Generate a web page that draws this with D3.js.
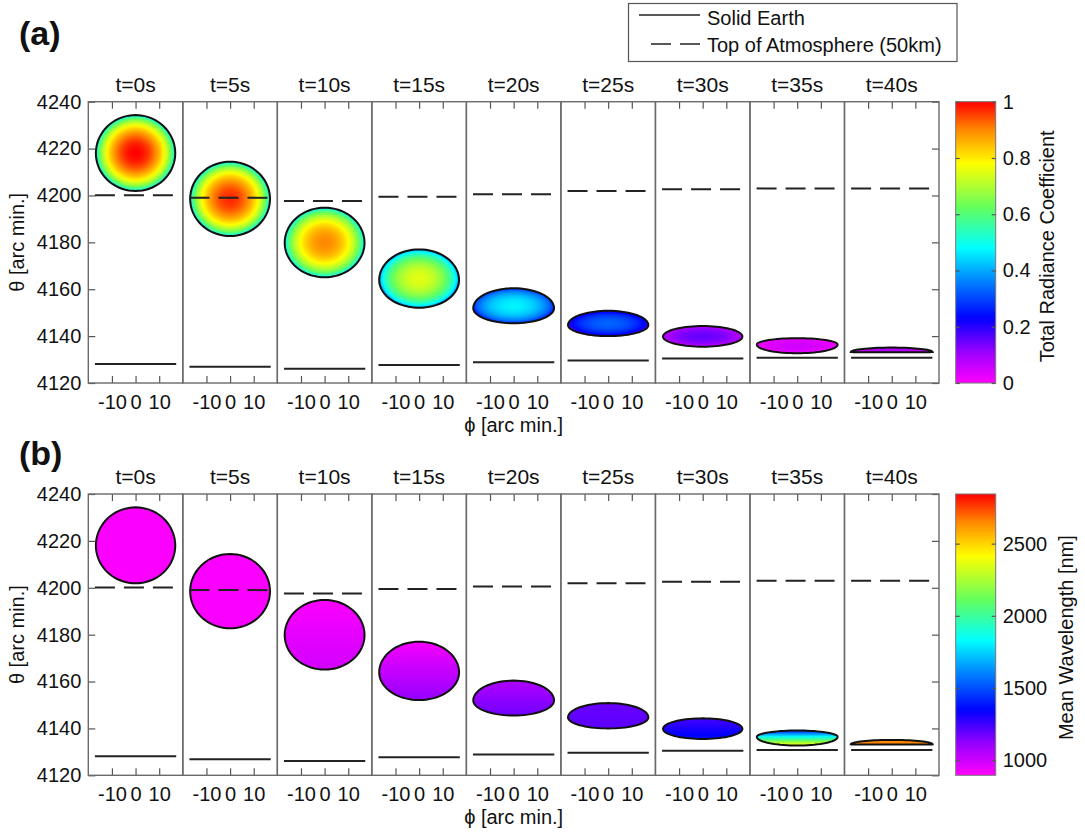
<!DOCTYPE html>
<html>
<head>
<meta charset="utf-8">
<script src="https://cdn.jsdelivr.net/npm/d3@7"></script>
<style>
  body { margin: 0; background: #fff; }
  text { font-family: "Liberation Sans", Arial, sans-serif; fill: #111; }
</style>
</head>
<body>
<script>
const times = [0, 5, 10, 15, 20, 25, 30, 35, 40]

// blob outline per time step: half width in phi, theta of widest row, top and bottom
const blobHalfWidth = [16.8, 16.9, 16.9, 16.9, 17.1, 17.0, 16.8, 17.1, 17.3]
const blobMid = [4218.0, 4198.5, 4179.8, 4163.9, 4151.9, 4144.7, 4139.8, 4136.4, 4133.2]
const blobTop = [4234.3, 4214.4, 4194.8, 4177.0, 4160.4, 4150.8, 4144.3, 4139.1, 4135.1]
const blobBottom = [4201.9, 4182.7, 4165.1, 4152.1, 4145.5, 4140.0, 4135.5, 4132.7, 4133.1]

const solidEarth = [4128.1, 4126.9, 4126.1, 4127.7, 4128.9, 4129.6, 4130.5, 4130.8, 4130.8]
const topAtmos = [4200.1, 4199.0, 4197.6, 4199.5, 4200.5, 4201.9, 4202.6, 4203.0, 4203.0]
const lineExtent = [-17.2, 17.2]

// total radiance coefficient at the blob centre and at its rim
const radCentre = [1.0, 0.97, 0.9, 0.75, 0.47, 0.33, 0.15, 0.05, 0.09]
const radRim = [0.45, 0.45, 0.45, 0.37, 0.26, 0.18, 0.06, 0.01, 0.04]

// mean wavelength [nm] at top and bottom of the blob
const wlTop = [900, 900, 905, 915, 1070, 1185, 1235, 1400, 2640]
const wlBottom = [905, 910, 990, 1120, 1175, 1205, 1370, 2450, 2660]

const yTicks = [4120, 4140, 4160, 4180, 4200, 4220, 4240]
const xTicks = [-10, 0, 10]
const radTicks = [0, 0.2, 0.4, 0.6, 0.8, 1]
const wlTicks = [1000, 1500, 2000, 2500]

const width = 1085
const height = 836
const plotLeft = 88.3
const plotRight = 939
const panelTops = [101.7, 494]
const panelH = 281.3
const cbX = 955.7
const cbW = 40

const cmap = d3.scaleLinear()
  .domain([0, 0.11, 0.23, 0.36, 0.48, 0.62, 0.78, 0.9, 1])
  .range(['#ff00ff', '#9a00ff', '#0000ff', '#0080ff', '#00ffff', '#60ff60', '#ffff00', '#ff8800', '#ff0000'])
  .clamp(true)

const wlNorm = d3.scaleLinear().domain([895, 2844]).range([0, 1]).clamp(true)

const svg = d3.select('body').append('svg')
  .attr('width', width)
  .attr('height', height)
  .attr('xmlns', 'http://www.w3.org/2000/svg')

svg.append('rect').attr('width', width).attr('height', height).attr('fill', '#fff')
const defs = svg.append('defs')

const sub = d3.scaleBand().domain(times).range([plotLeft, plotRight]).padding(0)
const bw = sub.bandwidth()
const x = d3.scaleLinear().domain([-20, 20]).range([0, bw])

const blobPath = (i, y) => {
  const pts = d3.range(0, 73).map(k => {
    const a = k / 72 * 2 * Math.PI
    const s = Math.sin(a)
    const ry = s >= 0 ? blobTop[i] - blobMid[i] : blobMid[i] - blobBottom[i]
    return [blobHalfWidth[i] * Math.cos(a), blobMid[i] + ry * s]
  })
  return d3.line().x(d => x(d[0])).y(d => y(d[1])).curve(d3.curveLinearClosed)(pts)
}

// gradients for the blobs
times.forEach((t, i) => {
  const rg = defs.append('radialGradient').attr('id', 'rad' + i)
    .attr('cx', 0.5).attr('cy', 0.5).attr('r', 0.5)
  d3.range(0, 1.0001, 0.05).forEach(r => {
    const v = radRim[i] + (radCentre[i] - radRim[i]) * Math.pow(Math.max(0, 1 - r * r), 0.7)
    rg.append('stop').attr('offset', r).attr('stop-color', cmap(v))
  })
  const lg = defs.append('linearGradient').attr('id', 'wl' + i)
    .attr('x1', 0).attr('y1', 0).attr('x2', 0).attr('y2', 1)
  d3.range(0, 1.0001, 0.1).forEach(o => {
    const v = wlTop[i] + (wlBottom[i] - wlTop[i]) * o
    lg.append('stop').attr('offset', o).attr('stop-color', cmap(wlNorm(v)))
  })
})

const cbGrad = defs.append('linearGradient').attr('id', 'cbar')
  .attr('x1', 0).attr('y1', 1).attr('x2', 0).attr('y2', 0)
d3.range(0, 1.0001, 0.02).forEach(o => {
  cbGrad.append('stop').attr('offset', o).attr('stop-color', cmap(o))
})

const styleAxis = (g) => {
  g.select('.domain').remove()
  g.selectAll('.tick line').attr('stroke', '#555').attr('stroke-width', 1.2)
  g.selectAll('.tick text').attr('font-size', 20).attr('fill', '#111')
    .attr('font-family', '"Liberation Sans", Arial, sans-serif')
}

const drawPanel = (p) => {
  const top = panelTops[p]
  const y = d3.scaleLinear().domain([4120, 4240]).range([top + panelH, top])
  const panel = svg.append('g')

  times.forEach((t, i) => {
    const g = panel.append('g').attr('transform', `translate(${sub(t)},0)`)

    g.append('text')
      .attr('x', bw / 2).attr('y', top - 10)
      .attr('text-anchor', 'middle').attr('font-size', 21)
      .text(`t=${t}s`)

    g.append('path')
      .attr('d', blobPath(i, y))
      .attr('fill', p === 0 ? `url(#rad${i})` : `url(#wl${i})`)
      .attr('stroke', '#111').attr('stroke-width', 2)

    g.append('line')
      .attr('x1', x(lineExtent[0])).attr('x2', x(lineExtent[1]))
      .attr('y1', y(solidEarth[i])).attr('y2', y(solidEarth[i]))
      .attr('stroke', '#222').attr('stroke-width', 2)

    g.append('line')
      .attr('x1', x(lineExtent[0])).attr('x2', x(lineExtent[1]))
      .attr('y1', y(topAtmos[i])).attr('y2', y(topAtmos[i]))
      .attr('stroke', '#222').attr('stroke-width', 2)
      .attr('stroke-dasharray', '20,9')

    g.append('g').attr('transform', `translate(0,${top + panelH})`)
      .call(d3.axisBottom(x).tickValues(xTicks).tickSize(-7).tickSizeOuter(0)
        .tickPadding(12).tickFormat(d => String(d)))
      .call(styleAxis)

    g.append('g').attr('transform', `translate(0,${top})`)
      .call(d3.axisTop(x).tickValues(xTicks).tickSize(-7).tickSizeOuter(0).tickFormat(''))
      .call(styleAxis)

    if (i === 0) {
      g.append('g')
        .call(d3.axisLeft(y).tickValues(yTicks).tickSize(-7).tickSizeOuter(0)
          .tickPadding(7).tickFormat(d => String(d)))
        .call(styleAxis)
    }
    if (i === times.length - 1) {
      g.append('g').attr('transform', `translate(${bw},0)`)
        .call(d3.axisRight(y).tickValues(yTicks).tickSize(-7).tickSizeOuter(0).tickFormat(''))
        .call(styleAxis)
    }

    g.append('rect')
      .attr('x', 0).attr('y', top).attr('width', bw).attr('height', panelH)
      .attr('fill', 'none').attr('stroke', '#6a6a6a').attr('stroke-width', 1.4)
  })

  // axis labels
  svg.append('text')
    .attr('transform', `translate(24,${top + panelH / 2}) rotate(-90)`)
    .attr('text-anchor', 'middle').attr('font-size', 20)
    .text('θ [arc min.]')

  svg.append('text')
    .attr('x', (plotLeft + plotRight) / 2).attr('y', top + panelH + 48.5)
    .attr('text-anchor', 'middle').attr('font-size', 20)
    .text('ϕ [arc min.]')

  // colour bar
  const cbScale = p === 0
    ? d3.scaleLinear().domain([0, 1]).range([top + panelH, top])
    : d3.scaleLinear().domain([895, 2844]).range([top + panelH, top])

  svg.append('rect')
    .attr('x', cbX).attr('y', top).attr('width', cbW).attr('height', panelH)
    .attr('fill', 'url(#cbar)').attr('stroke', '#777').attr('stroke-width', 1)

  svg.append('g').attr('transform', `translate(${cbX + cbW},0)`)
    .call(d3.axisRight(cbScale).tickValues(p === 0 ? radTicks : wlTicks)
      .tickSize(-4).tickSizeOuter(0).tickPadding(7).tickFormat(d => String(d)))
    .call(styleAxis)

  svg.append('g').attr('transform', `translate(${cbX},0)`)
    .call(d3.axisLeft(cbScale).tickValues(p === 0 ? radTicks : wlTicks)
      .tickSize(-4).tickSizeOuter(0).tickFormat(''))
    .call(styleAxis)

  svg.append('text')
    .attr('transform', p === 0
      ? `translate(1054,${top + panelH / 2 + 4}) rotate(-90)`
      : `translate(1073,${top + panelH / 2 + 3}) rotate(-90)`)
    .attr('text-anchor', 'middle').attr('font-size', 20)
    .text(p === 0 ? 'Total Radiance Coefficient' : 'Mean Wavelength [nm]')
}

drawPanel(0)
drawPanel(1)

// panel letters
svg.append('text').attr('x', 19).attr('y', 45)
  .attr('font-size', 34).attr('font-weight', 'bold').text('(a)')
svg.append('text').attr('x', 19).attr('y', 465)
  .attr('font-size', 34).attr('font-weight', 'bold').text('(b)')

// legend
const legend = svg.append('g')
legend.append('rect')
  .attr('x', 628.5).attr('y', 3.5).attr('width', 328.5).attr('height', 58)
  .attr('fill', '#fff').attr('stroke', '#555').attr('stroke-width', 1.2)
legend.append('line')
  .attr('x1', 639).attr('x2', 700).attr('y1', 15).attr('y2', 15)
  .attr('stroke', '#222').attr('stroke-width', 1.5)
legend.append('text').attr('x', 707).attr('y', 25).attr('font-size', 20).text('Solid Earth')
legend.append('line')
  .attr('x1', 651).attr('x2', 700).attr('y1', 44).attr('y2', 44)
  .attr('stroke', '#222').attr('stroke-width', 1.5).attr('stroke-dasharray', '20,9')
legend.append('text').attr('x', 707).attr('y', 52).attr('font-size', 20).text('Top of Atmosphere (50km)')
</script>
</body>
</html>
